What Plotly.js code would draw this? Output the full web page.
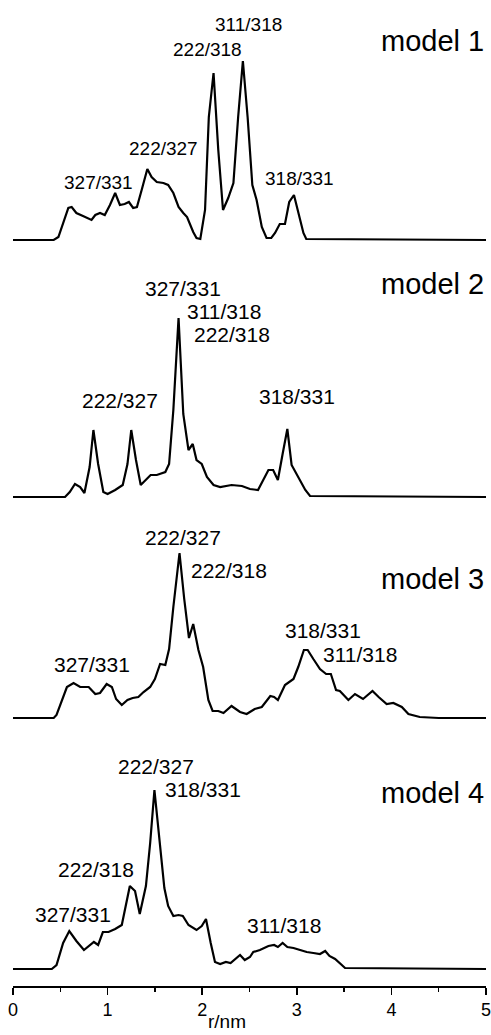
<!DOCTYPE html>
<html>
<head>
<meta charset="utf-8">
<script src="https://cdn.plot.ly/plotly-3.0.1.min.js"></script>
<style>html,body{margin:0;padding:0;background:#fff;}#chart{width:491px;height:1035px;}</style>
</head>
<body>
<div id="chart"></div>
<script>
// ---- data (r in nm, intensity in arbitrary units) ----
const r1 = [0,0.43,0.48,0.53,0.585,0.62,0.67,0.74,0.83,0.87,0.92,0.97,1.025,1.08,1.13,1.18,1.225,1.27,1.31,1.36,1.42,1.465,1.52,1.59,1.64,1.695,1.75,1.80,1.84,1.905,1.94,1.98,2.03,2.07,2.12,2.17,2.22,2.275,2.33,2.38,2.43,2.48,2.53,2.575,2.63,2.68,2.73,2.77,2.82,2.875,2.92,2.97,3.02,3.07,3.10,5];
const g1 = [0,0,3,17,32,33,27,24,20,25,27,25,35,47,35,36,38,32,33,50,71,63,58,57,55,47,33,27,23,8,2,1,30,123,167,90,30,42,57,123,179,123,55,40,13,2,2,7,16,16,38,45,27,7,1,0];

const r2 = [0,0.55,0.60,0.655,0.71,0.755,0.81,0.85,0.90,0.955,1.0,1.08,1.16,1.21,1.25,1.30,1.35,1.405,1.455,1.52,1.61,1.65,1.695,1.75,1.80,1.855,1.90,1.94,1.995,2.05,2.12,2.19,2.31,2.42,2.505,2.59,2.645,2.70,2.75,2.80,2.85,2.90,2.945,3.0,3.045,3.09,3.14,5];
const g2 = [0,0,5,13,10,4,30,67,33,5,3,7,12,33,67,37,12,17,22,22,25,33,87,179,83,47,53,37,33,20,12,10,12,11,8,7,17,27,27,17,43,68,32,22,15,7,1,0];

const r3 = [0,0.43,0.46,0.515,0.57,0.64,0.71,0.80,0.87,0.92,0.99,1.045,1.09,1.15,1.21,1.265,1.325,1.38,1.45,1.50,1.555,1.61,1.65,1.695,1.76,1.81,1.86,1.905,1.96,2.01,2.065,2.11,2.17,2.225,2.31,2.40,2.47,2.555,2.63,2.72,2.76,2.80,2.875,2.965,3.015,3.075,3.115,3.175,3.245,3.31,3.36,3.415,3.455,3.545,3.615,3.70,3.80,3.865,3.95,4.02,4.11,4.18,4.30,4.5,5];
const g3 = [0,0,3,18,31,35,31,31,24,25,34,31,19,13,18,20,21,26,31,39,54,53,69,111,165,119,80,94,68,51,18,7,7,5,12,6,4,9,11,22,21,18,33,39,51,68,68,59,49,44,44,28,27,18,24,19,27,21,14,15,11,4,1,0,0];

const r4 = [0,0.41,0.46,0.53,0.595,0.67,0.75,0.815,0.855,0.90,0.95,1.01,1.08,1.15,1.195,1.235,1.29,1.34,1.405,1.45,1.495,1.545,1.60,1.64,1.695,1.75,1.795,1.855,1.94,1.995,2.04,2.09,2.135,2.19,2.25,2.30,2.345,2.40,2.45,2.505,2.54,2.61,2.70,2.76,2.80,2.85,2.90,2.965,3.035,3.105,3.175,3.245,3.30,3.345,3.405,3.455,3.51,5];
const g4 = [0,0,4,26,38,28,19,24,27,24,37,37,40,44,63,83,78,55,83,126,179,131,81,63,53,54,53,44,39,43,50,26,7,5,7,6,10,14,9,12,17,19,23,24,22,26,22,21,19,17,16,15,18,13,10,6,1,0];

const modelNames = ["model 1","model 2","model 3","model 4"];

// peak labels per panel: text, r position, height position
const lab1Text = ["327/331","222/327","222/318","311/318","318/331"];
const lab1R    = [0.90,1.59,2.056,2.49,3.03];
const lab1H    = [57.5,91.3,190.3,216,61.7];
const lab2Text = ["327/331","311/318","222/318","222/327","318/331"];
const lab2R    = [1.795,2.23,2.32,1.128,3.0];
const lab2H    = [208.3,185.8,162.2,96.2,100.7];
const lab3Text = ["222/327","222/318","327/331","318/331","311/318"];
const lab3R    = [1.80,2.285,0.83,3.28,3.67];
const lab3H    = [180.2,147.2,53.5,87.7,63.2];
const lab4Text = ["222/327","318/331","222/318","327/331","311/318"];
const lab4R    = [1.51,2.007,0.875,0.63,2.867];
const lab4H    = [202.3,179.8,100,54.8,44];

const modelR = [4.43,4.43,4.43,4.43];
const modelH = [199,213,139,176];

const xTickVals = [0,1,2,3,4,5];
const xTickText = ["0","1","2","3","4","5"];

// ---- layout geometry ----
const W = 491, H = 1035, mT = 0, mB = 49, mL = 13, mR = 5;
const plotH = H - mT - mB;
const baselines = [240, 497, 718, 969]; // pixel baselines of the panels
const below = 8, above = 232;
function frac(py){ return (plotH - (py - mT)) / plotH; }

const FONT = "Arial, 'Liberation Sans', Helvetica, sans-serif";
const rs = [r1,r2,r3,r4], gs = [g1,g2,g3,g4];
const labT = [lab1Text,lab2Text,lab3Text,lab4Text];
const labR = [lab1R,lab2R,lab3R,lab4R];
const labH = [lab1H,lab2H,lab3H,lab4H];
const labSize = [19,21,21,21];

const traces = [];
const annotations = [];
const layout = {
  width: W, height: H,
  margin: {t: mT, b: mB, l: mL, r: mR, pad: 0},
  paper_bgcolor: "#fff", plot_bgcolor: "rgba(0,0,0,0)",
  showlegend: false,
  font: {family: FONT, color: "#000"},
  xaxis: {
    range: [0,5], domain: [0,1], anchor: "free", position: 0,
    showgrid: false, zeroline: false,
    showline: true, linecolor: "#000", linewidth: 1.5,
    ticks: "outside", ticklen: 7, tickwidth: 1.5, tickcolor: "#000",
    tickvals: xTickVals, ticktext: xTickText,
    ticklabeloverflow: "allow",
    tickfont: {family: FONT, size: 18, color: "#000"},
    minor: {dtick: 0.5, tick0: 0, ticks: "outside", ticklen: 4, tickwidth: 1.5, tickcolor: "#000", showgrid: false}
  },
  annotations: annotations
};

for (let i = 0; i < 4; i++) {
  const yName = i === 0 ? "y" : "y" + (i + 1);
  const yKey = i === 0 ? "yaxis" : "yaxis" + (i + 1);
  const B = baselines[i];
  layout[yKey] = {
    domain: [frac(B + below), frac(B - above)],
    range: [-below, above],
    anchor: "x", visible: false, fixedrange: true
  };
  traces.push({
    x: rs[i], y: gs[i], xaxis: "x", yaxis: yName,
    type: "scatter", mode: "lines",
    line: {color: "#000", width: 2.2},
    hoverinfo: "skip"
  });
  for (let k = 0; k < labT[i].length; k++) {
    annotations.push({
      text: labT[i][k], x: labR[i][k], y: labH[i][k],
      xref: "x", yref: yName, showarrow: false,
      xanchor: "center", yanchor: "middle",
      font: {family: FONT, size: labSize[i], color: "#000"}
    });
  }
  annotations.push({
    text: modelNames[i], x: modelR[i], y: modelH[i],
    xref: "x", yref: yName, showarrow: false,
    xanchor: "center", yanchor: "middle",
    font: {family: FONT, size: 29, color: "#000"}
  });
}

// axis title
annotations.push({
  text: "r/nm", x: 2.26, y: 0, xref: "x", yref: "paper",
  yanchor: "bottom", yshift: -48, showarrow: false,
  font: {family: FONT, size: 19, color: "#000"}
});

Plotly.newPlot("chart", traces, layout, {staticPlot: true, displayModeBar: false});
</script>
</body>
</html>
